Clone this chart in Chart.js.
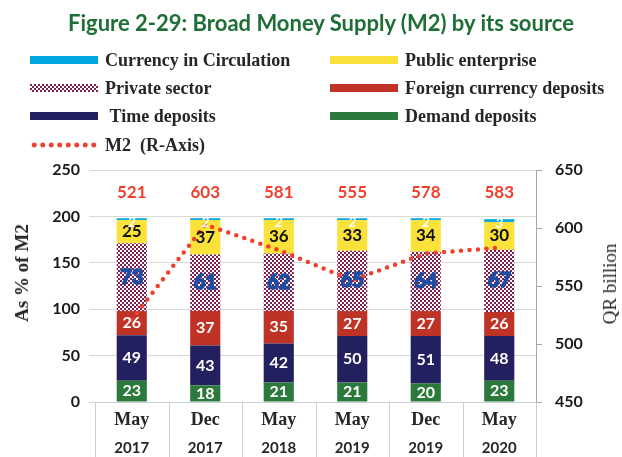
<!DOCTYPE html>
<html><head><meta charset="utf-8">
<script src="https://cdn.jsdelivr.net/npm/chart.js@4/dist/chart.umd.min.js"></script>
<style>
html,body{margin:0;padding:0;background:#fff;}
#wrap{position:relative;width:622px;height:457px;overflow:hidden;}
#title{position:absolute;top:9px;left:10px;width:622px;text-align:center;font:bold 22px Lato, sans-serif;color:#1e6e35;white-space:nowrap;}
.lg{position:absolute;height:20px;font:bold 18px "Liberation Serif", serif;color:#262626;display:flex;align-items:center;white-space:nowrap;}
.sw{width:68px;height:8px;margin-right:7px;flex:none;}
.ax{position:absolute;white-space:nowrap;font:19px "Liberation Serif", serif;color:#262626;transform:translate(-50%,-50%) rotate(-90deg);}
canvas{position:absolute;left:0;top:0;}
</style></head>
<body>
<div id="wrap">
<canvas id="c" width="622" height="457"></canvas>
<div id="title">Figure 2-29: Broad Money Supply (M2) by its source</div>
<div class="lg" style="left:30px;top:50px"><div class="sw" style="background:#00a7e1"></div>Currency in Circulation</div>
<div class="lg" style="left:330px;top:50px"><div class="sw" style="background:#fbe23a"></div>Public enterprise</div>
<div class="lg" style="left:30px;top:78px"><div class="sw" id="patsw"></div>Private sector</div>
<div class="lg" style="left:330px;top:78px"><div class="sw" style="background:#bf3326"></div>Foreign currency deposits</div>
<div class="lg" style="left:30px;top:106px"><div class="sw" style="background:#23205f"></div>&nbsp;Time deposits</div>
<div class="lg" style="left:330px;top:106px"><div class="sw" style="background:#2c7a3b"></div>Demand deposits</div>
<div class="lg" style="left:30px;top:135px"><div class="sw" style="height:6px;background:radial-gradient(circle, #f0402c 2.2px, transparent 2.8px);background-size:8.5px 6px;"></div>M2&nbsp; (R-Axis)</div>
<div class="ax" style="left:22px;top:273px;font-weight:bold;">As % of M2</div>
<div class="ax" style="left:610px;top:284px;">QR billion</div>
</div>
<script>
const monthLabels = ['May','Dec','May','May','Dec','May'];
const yearLabels = ['2017','2017','2018','2019','2019','2020'];
const demandDeposits = [23,18,21,21,20,23];
const timeDeposits = [49,43,42,50,51,48];
const foreignCurrencyDeposits = [26,37,35,27,27,26];
const privateSector = [73,61,62,65,64,67];
const publicEnterprise = [25,37,36,33,34,30];
const currencyInCirculation = [2,2,2,2,2,3];
const m2 = [521,603,581,555,578,583];
const leftTicks = [0,50,100,150,200,250];
const rightTicks = [450,500,550,600,650];

// pattern for private sector (2px checker of maroon on white)
const pc = document.createElement('canvas');
pc.width = 4; pc.height = 4;
const px = pc.getContext('2d');
px.fillStyle = '#ffffff'; px.fillRect(0,0,4,4);
px.fillStyle = '#7d1f52';
px.fillRect(0,0,2,2); px.fillRect(2,2,2,2);
document.getElementById('patsw').style.background = 'url(' + pc.toDataURL() + ')';
const ctx0 = document.getElementById('c').getContext('2d');
const privatePattern = ctx0.createPattern(pc, 'repeat');

const labelStyles = [
  {color:'#ffffff', font:'bold 16px Lato', stroke:0},
  {color:'#ffffff', font:'bold 16px Lato', stroke:0},
  {color:'#ffffff', font:'bold 16px Lato', stroke:0},
  {color:'#1d4ea3', font:'bold 20px Lato', stroke:1.6},
  {color:'#111111', font:'bold 17px Lato', stroke:0},
  {color:'#ffffff', font:'italic bold 14px Lato', stroke:0}
];

const labelPlugin = {
  id: 'labels',
  afterDatasetsDraw(chart) {
    const c = chart.ctx;
    c.save();
    c.textAlign = 'center'; c.textBaseline = 'middle';
    for (let i = 0; i < 6; i++) {
      const meta = chart.getDatasetMeta(i);
      const st = labelStyles[i];
      meta.data.forEach((el, j) => {
        const v = chart.data.datasets[i].data[j];
        c.fillStyle = st.color; c.font = st.font;
        let y = (el.y + el.base) / 2;
        if (i === 5) y = el.y + 4;
        if (st.stroke) { c.strokeStyle = st.color; c.lineWidth = st.stroke; c.lineJoin = 'round'; c.strokeText(String(v), el.x, y); }
        c.fillText(String(v), el.x, y);
      });
    }
    // M2 labels
    const meta0 = chart.getDatasetMeta(0);
    c.fillStyle = '#f0402c'; c.font = 'bold 17px Lato';
    meta0.data.forEach((el, j) => {
      c.fillText(String(m2[j]), el.x, chart.chartArea.top + 23);
    });
    c.restore();
  }
};

const xLabelPlugin = {
  id: 'xlabels',
  afterDraw(chart) {
    const c = chart.ctx, a = chart.chartArea, xs = chart.scales.x;
    const n = monthLabels.length;
    const w = (a.right - a.left) / n;
    c.save();
    c.strokeStyle = '#c8d0d8'; c.lineWidth = 1;
    c.beginPath();
    c.moveTo(a.left, a.bottom + 0.5); c.lineTo(a.right, a.bottom + 0.5);
    for (let i = 0; i <= n; i++) {
      const x = Math.round(a.left + i * w) + 0.5;
      c.moveTo(x, a.bottom); c.lineTo(x, chart.height);
    }
    c.stroke();
    c.textAlign = 'center'; c.textBaseline = 'middle'; c.fillStyle = '#262626';
    for (let i = 0; i < n; i++) {
      const x = xs.getPixelForValue(i);
      c.font = 'bold 18px "Liberation Serif"';
      c.fillText(monthLabels[i], x, a.bottom + 18);
      c.font = 'bold 15px Lato';
      c.fillText(yearLabels[i], x, a.bottom + 46);
    }
    c.restore();
  }
};

const barCommon = {type:'bar', yAxisID:'y', stack:'s', order:1, barPercentage:0.41, categoryPercentage:1, borderWidth:0};

new Chart(ctx0, {
  data: {
    labels: monthLabels.map((m, i) => m + ' ' + yearLabels[i]),
    datasets: [
      {...barCommon, label:'Demand deposits', data:demandDeposits, backgroundColor:'#2c7a3b'},
      {...barCommon, label:'Time deposits', data:timeDeposits, backgroundColor:'#23205f'},
      {...barCommon, label:'Foreign currency deposits', data:foreignCurrencyDeposits, backgroundColor:'#bf3326'},
      {...barCommon, label:'Private sector', data:privateSector, backgroundColor:privatePattern},
      {...barCommon, label:'Public enterprise', data:publicEnterprise, backgroundColor:'#fbe23a'},
      {...barCommon, label:'Currency in Circulation', data:currencyInCirculation, backgroundColor:'#00a7e1'},
      {type:'line', label:'M2 (R-Axis)', yAxisID:'y2', order:0, data:m2, borderColor:'#f0402c', borderWidth:4.5,
       borderDash:[0,8.5], borderCapStyle:'round', pointRadius:0, fill:false, tension:0}
    ]
  },
  options: {
    responsive:false, devicePixelRatio:1, animation:false,
    layout:{padding:{top:170, left:0, right:0, bottom:0}},
    plugins:{legend:{display:false}, tooltip:{enabled:false}, title:{display:false}},
    scales:{
      x:{stacked:true, grid:{display:false}, border:{display:false}, ticks:{display:false},
         afterFit(s){ s.height = 55; }},
      y:{stacked:true, position:'left', min:0, max:250,
         afterBuildTicks(s){ s.ticks = leftTicks.map(v => ({value:v})); },
         ticks:{font:{family:'Lato', weight:'bold', size:16}, color:'#1a1a1a', padding:9},
         grid:{color:'#d9d9d9', tickLength:6}, border:{display:false},
         afterFit(s){ s.width = 95; }},
      y2:{position:'right', min:450, max:650,
         afterBuildTicks(s){ s.ticks = rightTicks.map(v => ({value:v})); },
         ticks:{font:{family:'Lato', weight:'bold', size:16}, color:'#1a1a1a', padding:13},
         grid:{drawOnChartArea:false, color:'#a6a6a6', tickLength:6}, border:{display:true, color:'#a6a6a6'},
         afterFit(s){ s.width = 86; }}
    }
  },
  plugins:[labelPlugin, xLabelPlugin]
});
</script>
</body></html>
